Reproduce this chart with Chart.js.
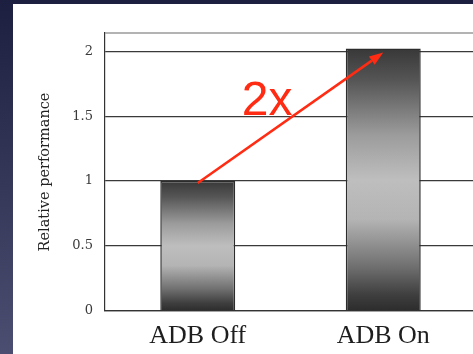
<!DOCTYPE html>
<html>
<head>
<meta charset="utf-8">
<script src="https://cdn.jsdelivr.net/npm/chart.js@4/dist/chart.umd.min.js"></script>
<style>
  html, body { margin: 0; padding: 0; overflow: hidden; background: #2a2d4c; }
  #wrap { width: 477px; height: 354px; }
</style>
</head>
<body>
<div id="wrap"><canvas id="perfChart" width="477" height="354"></canvas></div>
<script>
// chart data
var categories = ["ADB Off", "ADB On"];
var perfValues = [1.0, 2.02];
var yTicks = [0, 0.5, 1, 1.5, 2];
var yTitle = "Relative performance";
var ratioLabel = "2x";

//slide background + white page behind the chart
var slideBackground = {
	id: "slideBackground",
	beforeDraw: function (chart) {
		var c = chart.ctx;
		var g = c.createLinearGradient(0, 0, 0, chart.height);
		g.addColorStop(0, "#1c1f3f");
		g.addColorStop(1, "#4b4e70");
		c.save();
		c.fillStyle = g;
		c.fillRect(0, 0, chart.width, chart.height);
		c.fillStyle = "#ffffff";
		c.fillRect(13, 4, chart.width - 13, chart.height - 4);
		c.restore();
	},
	afterDraw: function (chart) {
		//thin grey frame line on top of the plot
		var a = chart.chartArea;
		var c = chart.ctx;
		c.save();
		c.strokeStyle = "#9a9a9a";
		c.lineWidth = 1.5;
		c.beginPath();
		c.moveTo(a.left, a.top);
		c.lineTo(a.right, a.top);
		c.stroke();
		c.restore();
	}
};

//red arrow from the top of one bar to the other, with the ratio text
var ratioArrow = {
	id: "ratioArrow",
	afterDatasetsDraw: function (chart) {
		var x = chart.scales.x, y = chart.scales.y, c = chart.ctx;
		var x1 = x.getPixelForValue(0), y1 = y.getPixelForValue(perfValues[0]) + 2;
		var x2 = x.getPixelForValue(1), y2 = y.getPixelForValue(perfValues[1]) + 4;
		var ang = Math.atan2(y2 - y1, x2 - x1);
		var head = 14, half = 5;
		c.save();
		c.strokeStyle = "#ff2b12";
		c.fillStyle = "#ff2b12";
		c.lineWidth = 2.5;
		c.beginPath();
		c.moveTo(x1, y1);
		c.lineTo(x2 - head * Math.cos(ang), y2 - head * Math.sin(ang));
		c.stroke();
		c.beginPath();
		c.moveTo(x2, y2);
		c.lineTo(x2 - head * Math.cos(ang) + half * Math.sin(ang), y2 - head * Math.sin(ang) - half * Math.cos(ang));
		c.lineTo(x2 - head * Math.cos(ang) - half * Math.sin(ang), y2 - head * Math.sin(ang) + half * Math.cos(ang));
		c.closePath();
		c.fill();
		//label sits just left of the arrow midpoint
		c.font = "48px 'Liberation Sans', Arial, sans-serif";
		c.textAlign = "right";
		c.textBaseline = "alphabetic";
		c.fillText(ratioLabel, (x1 + x2) / 2 + 2, (y1 + y2) / 2 - 3);
		c.restore();
	}
};

function barGradient(ctx) {
	var chart = ctx.chart;
	if (!chart.chartArea) return "#888888";
	var top = chart.scales.y.getPixelForValue(ctx.raw);
	var bottom = chart.scales.y.getPixelForValue(0);
	var g = chart.ctx.createLinearGradient(0, top, 0, bottom);
	g.addColorStop(0, "#383838");
	g.addColorStop(0.12, "#555555");
	g.addColorStop(0.33, "#9c9c9c");
	g.addColorStop(0.5, "#bebebe");
	g.addColorStop(0.65, "#b4b4b4");
	g.addColorStop(0.83, "#707070");
	g.addColorStop(0.94, "#3e3e3e");
	g.addColorStop(1, "#2c2c2c");
	return g;
}

var ctx = document.getElementById("perfChart");
var perfChart = new Chart(ctx, {
	type: "bar",
	data: {
		labels: categories,
		datasets: [{
			data: perfValues,
			backgroundColor: barGradient,
			borderColor: "#2c2c2c",
			borderWidth: 1.5,
			barPercentage: 0.404,
			categoryPercentage: 1
		}]
	},
	options: {
		responsive: false,
		animation: false,
		layout: { padding: { top: 33, right: 1, bottom: 0, left: 0 } },
		plugins: {
			legend: { display: false },
			tooltip: { enabled: false }
		},
		scales: {
			x: {
				grid: { display: false },
				border: { display: true, color: "#333333", width: 1.2 },
				ticks: {
					color: "#1e1e1e",
					padding: 2,
					font: { family: "'Liberation Serif', 'Times New Roman', serif", size: 26 }
				},
				afterFit: function (scale) { scale.height = 43; }
			},
			y: {
				min: 0,
				max: 2.14,
				afterBuildTicks: function (scale) {
					scale.ticks = yTicks.map(function (v) { return { value: v }; });
				},
				grid: { color: "#3a3a3a", lineWidth: 1.2, drawTicks: false },
				border: { display: true, color: "#333333", width: 1.2 },
				ticks: {
					color: "#3a3a3a",
					padding: 12,
					font: { family: "'DejaVu Serif', serif", size: 13 },
					callback: function (value) { return String(value); }
				},
				title: {
					display: true,
					text: yTitle,
					color: "#222222",
					padding: { top: 37, bottom: 0 },
					font: { family: "'DejaVu Serif', serif", size: 14.5 }
				},
				afterFit: function (scale) { scale.width = 105; }
			}
		}
	},
	plugins: [slideBackground, ratioArrow]
});
</script>
</body>
</html>
